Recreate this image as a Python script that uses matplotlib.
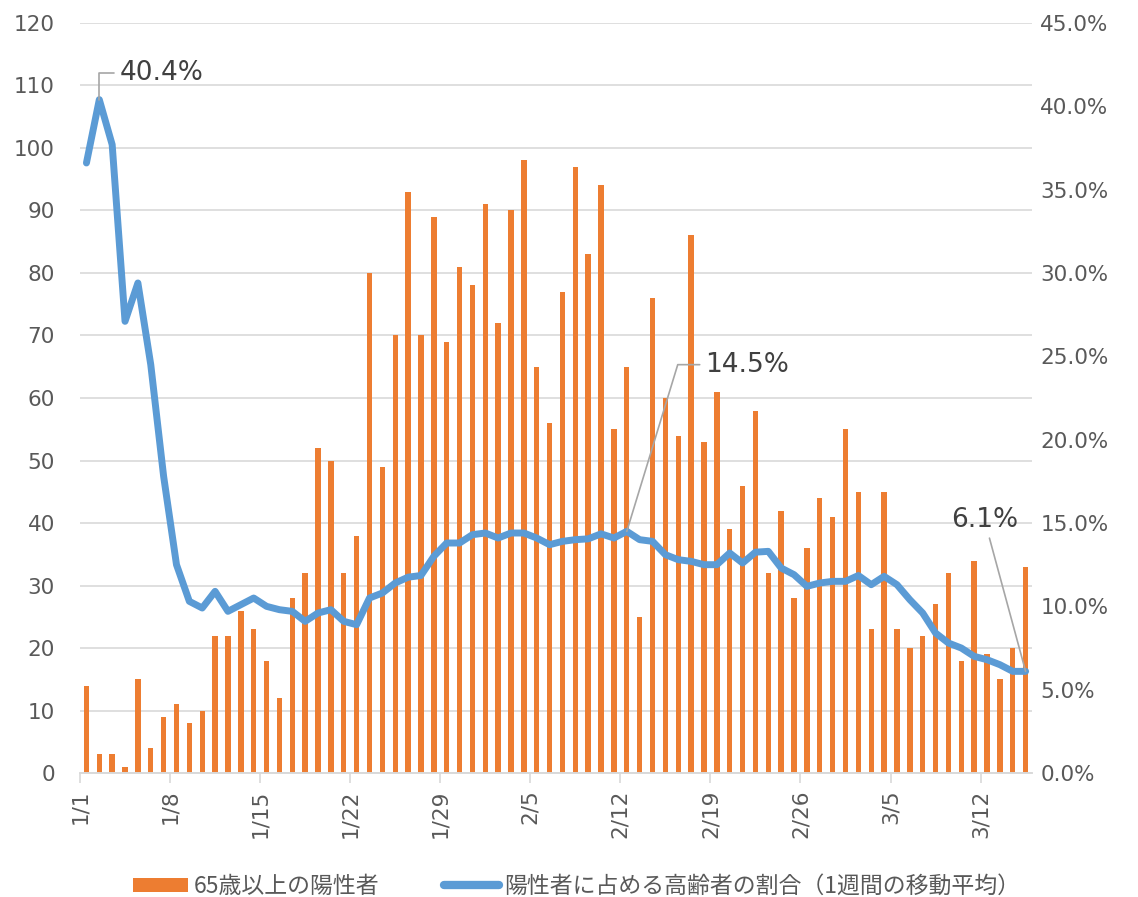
import numpy as np
import pandas as pd
import matplotlib
matplotlib.use("Agg")
import matplotlib.pyplot as plt
from matplotlib.patches import Patch
from matplotlib.lines import Line2D

plt.rcParams["font.family"] = ["DejaVu Sans", "Noto Sans CJK JP"]

# 日付 (1/1 - 3/15)
dates = pd.date_range("2021-01-01", "2021-03-15", freq="D")

# 65歳以上の陽性者 (人)
elderly_cases = [
    14, 3, 3, 1, 15, 4, 9, 11, 8, 10,
    22, 22, 26, 23, 18, 12, 28, 32, 52, 50,
    32, 38, 80, 49, 70, 93, 70, 89, 69, 81, 78,
    91, 72, 90, 98, 65, 56, 77, 97, 83, 94,
    55, 65, 25, 76, 60, 54, 86, 53, 61, 39,
    46, 58, 32, 42, 28, 36, 44, 41,
    55, 45, 23, 45, 23, 20, 22, 27, 32, 18, 34, 19, 15, 20, 33,
]

# 陽性者に占める高齢者の割合 (1週間の移動平均, %)
elderly_ratio = [
    36.6, 40.4, 37.7, 27.1, 29.4, 24.5, 17.8, 12.5, 10.3, 9.9,
    10.9, 9.7, 10.1, 10.5, 10.0, 9.8, 9.7, 9.1, 9.6, 9.8,
    9.1, 8.9, 10.5, 10.8, 11.4, 11.75, 11.85, 13.0, 13.8, 13.8, 14.3,
    14.4, 14.1, 14.4, 14.4, 14.1, 13.7, 13.9, 14.0, 14.05, 14.35,
    14.1, 14.5, 14.0, 13.9, 13.1, 12.8, 12.7, 12.5, 12.5, 13.2,
    12.6, 13.25, 13.3, 12.3, 11.9, 11.2, 11.4, 11.5,
    11.5, 11.85, 11.3, 11.8, 11.3, 10.4, 9.6, 8.4, 7.8, 7.5, 7.0, 6.8, 6.5, 6.1, 6.1,
]

# ラベルを付けるポイント
notes = [(1, "40.4%"), (42, "14.5%"), (73, "6.1%")]

tick_idx = list(range(0, len(dates), 7))
tick_labels = [f"{d.month}/{d.day}" for d in dates[tick_idx]]

BAR_C = "#ED7D31"
LINE_C = "#5B9BD5"
GRID_C = "#D9D9D9"
TXT_C = "#595959"

fig = plt.figure(figsize=(11.38, 8.97), dpi=100)
ax = fig.add_axes([0.0703, 0.1382, 0.8366, 0.8362])
ax2 = ax.twinx()

x = np.arange(len(dates)) + 0.5
ax.bar(x, elderly_cases, width=0.42, color=BAR_C, zorder=2)
ax2.plot(x, elderly_ratio, color=LINE_C, lw=5,
         solid_joinstyle="round", solid_capstyle="round")

ax.set_xlim(0, len(dates))
ax.set_ylim(0, 120)
ax2.set_ylim(0, 45)
ax.set_yticks(np.arange(0, 121, 10))
ax2.set_yticks(np.arange(0, 45.1, 5))
ax2.set_yticklabels([f"{v:.1f}%" for v in np.arange(0, 45.1, 5)])

ax.set_xticks(tick_idx)
ax.set_xticklabels(tick_labels, rotation=90, fontsize=15.5, color=TXT_C)
ax.tick_params(axis="x", length=7, color=GRID_C, width=1.2, pad=5)
ax.tick_params(axis="y", length=0, labelsize=15.5, labelcolor=TXT_C, pad=18)
ax2.tick_params(axis="y", length=0, labelsize=15.5, labelcolor=TXT_C, pad=6)

ax.yaxis.grid(True, color=GRID_C, lw=1.2)
ax.set_axisbelow(True)
for a in (ax, ax2):
    for s in ("top", "left", "right"):
        a.spines[s].set_visible(False)
    a.spines["bottom"].set_color(GRID_C)
    a.spines["bottom"].set_linewidth(1.2)

# データラベル
ann_kw = dict(fontsize=19, color="#404040",
              arrowprops=dict(arrowstyle="-", color="#A6A6A6", lw=1.2,
                              shrinkA=2, shrinkB=0))
i, t = notes[0]
a1 = ax2.annotate(t, xy=(x[i], elderly_ratio[i]), xytext=(3.1, 42.0),
                  ha="left", va="center", **ann_kw)
a1.arrow_patch.set_connectionstyle("angle,angleA=0,angleB=90,rad=0")
i, t = notes[1]
a2 = ax2.annotate(t, xy=(x[i], elderly_ratio[i]), xytext=(48.6, 24.5),
                  ha="left", va="center", **ann_kw)
a2.arrow_patch.set_connectionstyle("angle,angleA=0,angleB=73,rad=0")
i, t = notes[2]
ax2.annotate(t, xy=(x[i], elderly_ratio[i]), xytext=(70.3, 15.2),
             ha="center", va="center", **ann_kw)

handles = [
    Patch(facecolor=BAR_C, edgecolor="none"),
    Line2D([0], [0], color=LINE_C, lw=6, solid_capstyle="round"),
]
labels = ["65歳以上の陽性者", "陽性者に占める高齢者の割合（1週間の移動平均）"]
fig.legend(handles, labels, loc="lower center", bbox_to_anchor=(0.507, -0.024),
           ncol=2, frameon=False, handlelength=2.4, handleheight=0.6,
           handletextpad=0.25, columnspacing=2.8,
           prop={"family": ["Noto Sans CJK JP"], "size": 16.5},
           labelcolor=TXT_C)

plt.savefig("out.png", dpi=100)
plt.close()
